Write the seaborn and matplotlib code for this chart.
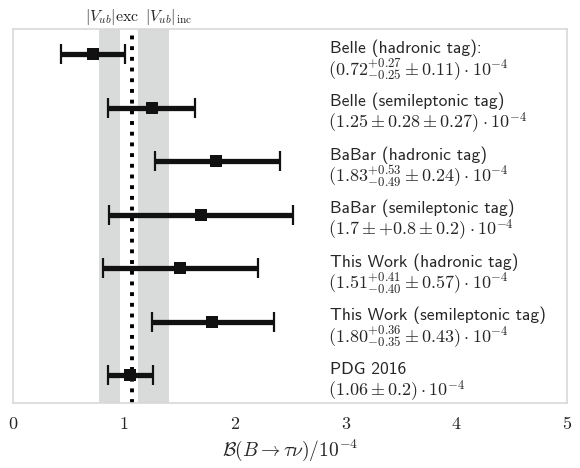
import matplotlib
matplotlib.use("Agg")
import matplotlib.pyplot as plt
import seaborn as sns
import numpy as np
import pandas as pd

# ---- data ----
names = ["Belle (hadronic tag):", "Belle (semileptonic tag)", "BaBar (hadronic tag)",
         "BaBar (semileptonic tag)", "This Work (hadronic tag)",
         "This Work (semileptonic tag)", "PDG 2016"]
formulas = [r"$(0.72^{+0.27}_{-0.25} \pm 0.11) \cdot 10^{-4}$",
            r"$(1.25 \pm 0.28 \pm 0.27) \cdot 10^{-4}$",
            r"$(1.83^{+0.53}_{-0.49} \pm 0.24) \cdot 10^{-4}$",
            r"$(1.7 \pm {+0.8} \pm 0.2) \cdot 10^{-4}$",
            r"$(1.51^{+0.41}_{-0.40} \pm 0.57) \cdot 10^{-4}$",
            r"$(1.80^{+0.36}_{-0.35} \pm 0.43) \cdot 10^{-4}$",
            r"$(1.06 \pm 0.2) \cdot 10^{-4}$"]
values = [0.72, 1.25, 1.83, 1.70, 1.51, 1.80, 1.06]
err_lo = [0.29, 0.39, 0.55, 0.83, 0.70, 0.55, 0.20]
err_hi = [0.29, 0.39, 0.58, 0.83, 0.70, 0.56, 0.20]
vub_exc = (0.78, 0.97)
vub_inc = (1.13, 1.41)
pdg_line = 1.075
xticks = [0, 1, 2, 3, 4, 5]

df = pd.DataFrame({"name": names, "value": values, "pos": np.arange(len(names))})

sns.set_theme(style="white")
plt.rcParams["mathtext.fontset"] = "cm"

fig = plt.figure(figsize=(5.8, 4.68), dpi=100)
ax = fig.add_axes([13/580, 1 - 403/468, 554/580, 374/468])

band_color = "#d9dbdb"
ax.axvspan(*vub_exc, color=band_color, lw=0, zorder=0)
ax.axvspan(*vub_inc, color=band_color, lw=0, zorder=0)
ax.axvline(pdg_line, color="black", lw=2.8, linestyle=(0, (1, 1.75)), zorder=1)

ax.errorbar(df["value"], df["pos"], xerr=[err_lo, err_hi], fmt="none",
            ecolor="#111111", elinewidth=3.8, capsize=7, capthick=1.6, zorder=3)
sns.scatterplot(data=df, x="value", y="pos", marker="s", s=75, color="#111111",
                edgecolor="#111111", linewidth=0, ax=ax, zorder=4, legend=False)

for i, (n, f) in enumerate(zip(names, formulas)):
    ax.text(2.86, i - 0.03, n, family="cmss10", fontsize=12.6, va="baseline", ha="left")
    ax.text(2.84, i + 0.39, f, fontsize=13, va="baseline", ha="left")

ax.text((vub_exc[0] + vub_exc[1]) / 2 + 0.02, -0.62, r"$|V_{ub}|\mathrm{exc}$",
        fontsize=11.5, ha="center", va="baseline", clip_on=False)
ax.text(1.40, -0.62, r"$|V_{ub}|_{\mathrm{inc}}$",
        fontsize=11.5, ha="center", va="baseline", clip_on=False)

ax.set_xlim(0, 5)
ax.set_ylim(6.52, -0.47)
ax.set_yticks([])
ax.set_xticks(xticks)
ax.set_xticklabels([str(t) for t in xticks], family="cmr10", fontsize=13)
ax.tick_params(axis="x", length=0, pad=10)
ax.set_xlabel(r"$\mathcal{B}(B \to \tau\nu)/10^{-4}$", fontsize=14, labelpad=4)
ax.set_ylabel("")
for s in ax.spines.values():
    s.set_color("#d8d8d8")
    s.set_linewidth(1.2)

fig.savefig("out.png", dpi=100)
